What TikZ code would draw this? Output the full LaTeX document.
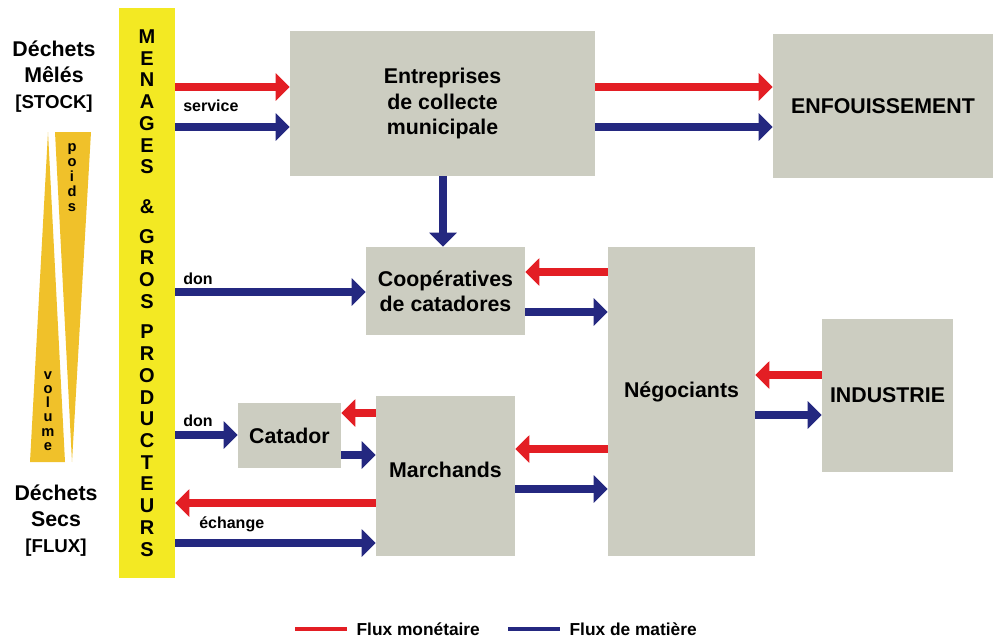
\documentclass[tikz,border=0pt]{standalone}
\usepackage{fontspec}
\setmainfont{Liberation Sans}
\usetikzlibrary{arrows.meta}

\definecolor{boxgray}{RGB}{204,205,193}
\definecolor{fluxred}{RGB}{227,30,36}
\definecolor{fluxblue}{RGB}{36,40,128}
\definecolor{baryellow}{RGB}{243,233,35}
\definecolor{wedgegold}{RGB}{240,193,42}

\begin{document}
\begin{tikzpicture}[x=0.75pt,y=-0.75pt]
    \tikzstyle{box}=[rectangle,fill=boxgray,inner sep=0pt,align=center,font=\fontsize{16}{19}\selectfont\bfseries]
    \tikzstyle{flow}=[line width=5.6pt,-{Triangle[width=20pt,length=10.5pt]}]
    \tikzstyle{money}=[flow,draw=fluxred]
    \tikzstyle{matter}=[flow,draw=fluxblue]
    \tikzstyle{annot}=[anchor=west,inner sep=0pt,font=\fontsize{12}{14}\selectfont\bfseries]
    \tikzstyle{side}=[align=center,inner sep=0pt,font=\fontsize{16}{19.5}\selectfont\bfseries]
    \tikzstyle{legend}=[anchor=west,inner xsep=7pt,font=\fontsize{13}{15}\selectfont\bfseries]

    \useasboundingbox (0,0) rectangle (993,639);

% Weight / volume wedges
    \fill[wedgegold] (48,132) -- (65,462) -- (30,462) -- cycle;
    \fill[wedgegold] (55,132) -- (91,132) -- (72,462) -- cycle;
    \node[align=center,inner sep=0pt,font=\fontsize{11}{11.25}\selectfont\bfseries] (poids) at (72,178) {p\\o\\i\\d\\s};
    \node[align=center,inner sep=0pt,font=\fontsize{11}{10.7}\selectfont\bfseries] (volume) at (48,411) {v\\o\\l\\u\\m\\e};

% Side labels
    \node[side] (meles) at (54,77) {Déchets\\Mêlés\\{\fontsize{14}{19.5}\selectfont [STOCK]}};
    \node[side] (secs) at (56,521) {Déchets\\Secs\\{\fontsize{14}{19.5}\selectfont [FLUX]}};

% Nodes
    \node[rectangle,fill=baryellow,inner sep=0pt,minimum width=42pt,minimum height=427.5pt,align=center,
          font=\fontsize{15}{16.3}\selectfont\bfseries] (producers) at (147,293)
        {M\\E\\N\\A\\G\\E\\S\\[13.5pt]\&\\[6pt]G\\R\\O\\S\\[6.5pt]P\\R\\O\\D\\U\\C\\T\\E\\U\\R\\S};
    \node[box,minimum width=228.75pt,minimum height=108.75pt] (entreprises) at (442.5,103.5) {Entreprises\\de collecte\\municipale};
    \node[box,minimum width=165pt,minimum height=108pt] (enfouissement) at (883,106) {ENFOUISSEMENT};
    \node[box,minimum width=119.25pt,minimum height=66pt] (coop) at (445.5,291) {Coopératives\\de catadores};
    \node[box,minimum width=110.25pt,minimum height=231.75pt] (negociants) at (681.5,401.5) {\raisebox{7pt}[\height][\depth]{Négociants}};
    \node[box,minimum width=98.25pt,minimum height=114.75pt] (industrie) at (887.5,395.5) {INDUSTRIE};
    \node[box,minimum width=77.25pt,minimum height=48.75pt] (catador) at (289.5,435.5) {Catador};
    \node[box,minimum width=104.25pt,minimum height=120pt] (marchands) at (445.5,476) {\raisebox{4.5pt}[\height][\depth]{Marchands}};

% Paths

    % Matter flows, left to right
    \foreach \src/\dst/\y in {producers/entreprises/127, entreprises/enfouissement/127,
                              producers/coop/292, coop/negociants/312, negociants/industrie/415,
                              producers/catador/435, catador/marchands/455,
                              marchands/negociants/489, producers/marchands/543}
        \draw[matter] (\src.east |- 0,\y) -- (\dst.west |- 0,\y);

    % Money flows, right to left
    \foreach \src/\dst/\y in {negociants/coop/272, industrie/negociants/375,
                              marchands/catador/413, negociants/marchands/449,
                              marchands/producers/503}
        \draw[money] (\src.west |- 0,\y) -- (\dst.east |- 0,\y);

    % Money paid for the collection service
    \draw[money] (producers.east |- 0,87) -- (entreprises.west |- 0,87);
    \draw[money] (entreprises.east |- 0,87) -- (enfouissement.west |- 0,87);

    % Collection to cooperatives
    \draw[matter] (entreprises.south -| 443,0) -- (coop.north -| 443,0);

% Flow labels
    \node[annot] (service) at (183,106) {service};
    \node[annot] (don1) at (183,279) {don};
    \node[annot] (don2) at (183,421) {don};
    \node[annot] (echange) at (199,524) {échange};

% Legend
    \coordinate (lm) at (295,629);
    \node[legend] (tm) at (347,629) {Flux monétaire};
    \draw[fluxred,line width=3pt] (lm) -- (tm.west);
    \coordinate (lb) at (508,629);
    \node[legend] (tb) at (560,629) {Flux de matière};
    \draw[fluxblue,line width=3pt] (lb) -- (tb.west);

\end{tikzpicture}
\end{document}
